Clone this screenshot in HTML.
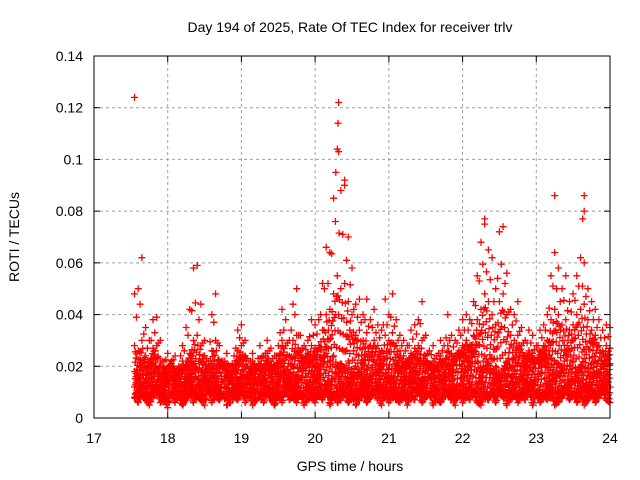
<!DOCTYPE html>
<html><head><meta charset="utf-8"><style>
body{margin:0;background:#fff}
svg{display:block;font-family:"Liberation Sans",sans-serif}
</style></head><body>
<svg id="chart" width="640" height="480" viewBox="0 0 640 480">
<rect x="0" y="0" width="640" height="480" fill="#fff"/>
<text x="350" y="32" text-anchor="middle" font-size="14">Day 194 of 2025, Rate Of TEC Index for receiver trlv</text>
<text x="19" y="237" text-anchor="middle" font-size="14" transform="rotate(-90 19 237)">ROTI / TECUs</text>
<text x="350" y="471" text-anchor="middle" font-size="14">GPS time / hours</text>
<g id="grid"></g><g id="ticks"></g><g id="pts"></g>
<rect x="94" y="56" width="516" height="362" fill="none" stroke="#000" stroke-width="1"/>
</svg>
<script>
const xTicks=[17,18,19,20,21,22,23,24];
const yTicks=[0,0.02,0.04,0.06,0.08,0.1,0.12,0.14];
const yTickLabels=["0","0.02","0.04","0.06","0.08","0.1","0.12","0.14"];
const tStart=17.55, tStep=0.05;
const rowLow=[8,6,9,7,5,8,10,6,7,4,9,6,8,5,7,9,6,8,7,5,10,6,8,7,9,5,6,8,7,10,6,9,5,7,8,6,9,7,5,8,6,10,7,8,6,9,5,7,8,6,9,7,10,5,8,6,7,9,6,8,5,7,9,6,8,10,7,5,9,6,8,7,6,9,5,8,7,10,6,8,9,5,7,6,8,9,7,5,10,6,8,7,9,6,5,8,7,9,6,10,8,5,7,9,6,8,7,10,5,9,6,8,7,9,5,6,8,10,7,9,6,8,5,7,9,6,8,10,7,6];
const rowLow2=[12,10,13,11,9,14,12,10,11,13,9,12,14,10,11,13,12,9,10,14,12,11,13,10,9,12,14,11,13,10,12,9,11,14,10,13,12,11,9,12,10,14,13,11,12,10,9,13,11,14,12,10,13,11,9,12,14,10,12,13,11,10,14,12,9,11,13,12,10,14,11,12,9,13,10,12,14,11,13,10,9,12,11,14,13,10,12,11,9,13,12,14,10,11,13,12,9,10,14,12,11,13,10,12,9,11,14,13,12,10,11,9,13,12,14,10,11,12,13,9,10,14,12,11,13,10,12,11,13,12];
const rowMid=[18,16,20,15,17,21,19,14,16,18,20,15,17,22,16,19,21,15,18,17,14,20,16,19,22,17,15,18,21,16,19,14,17,20,18,15,22,16,19,17,21,18,15,20,16,19,22,21,18,20,19,23,25,22,24,20,21,19,22,18,20,17,21,19,16,22,18,20,17,19,15,21,18,16,20,19,17,22,15,18,20,16,19,21,17,20,18,22,24,20,23,21,25,22,19,24,21,18,20,17,19,22,16,18,21,17,20,23,19,22,21,24,20,23,22,21,19,24,20,22,18,20,23,19,21,22,17,20,18,21];
const rowMid2=[28,26,30,24,22,27,28,22,20,19,21,18,20,17,22,25,30,32,28,24,19,26,30,22,19,21,18,20,26,28,24,19,22,18,23,20,25,22,20,24,30,28,24,30,32,26,23,25,28,27,28,34,40,42,48,55,50,52,45,40,32,34,30,33,28,30,28,26,32,30,33,28,26,24,22,25,27,28,30,24,21,22,20,24,22,28,25,24,26,28,30,28,32,38,42,48,45,40,36,45,48,40,32,30,32,28,24,26,25,22,26,28,30,38,42,40,36,38,34,36,40,42,44,38,34,32,28,26,28,27];
const rowHigh=[48,50,62,35,30,38,39,30,22,25,22,24,20,28,35,42,58,59,44,30,22,40,48,28,22,25,20,24,34,36,30,22,25,20,28,24,30,27,24,28,42,38,30,44,50,32,28,30,38,36,38,52,66,64,85,104,88,92,70,58,44,46,40,46,38,42,36,34,46,40,48,38,32,30,28,34,36,38,45,32,26,28,24,30,28,40,32,30,34,38,40,38,45,55,68,77,65,62,50,72,74,56,42,40,45,35,30,34,32,28,34,36,40,55,64,58,50,55,45,48,55,62,60,50,45,42,38,34,36,35];
const outT=[17.55,20.32,20.31,20.32,20.28,23.25,23.65,23.65,23.63,20.4,22.3,17.65];
const outV=[0.124,0.122,0.114,0.103,0.095,0.086,0.086,0.080,0.077,0.090,0.075,0.062];
const X=t=>94+(t-17)*(516/7);
const Y=v=>418-v*(362/0.14);
const NS="http://www.w3.org/2000/svg";
const grid=document.getElementById('grid'),ticks=document.getElementById('ticks'),pts=document.getElementById('pts');
function mk(tag,attrs,parent){const e=document.createElementNS(NS,tag);for(const k in attrs)e.setAttribute(k,attrs[k]);parent.appendChild(e);return e;}
xTicks.forEach(t=>{
  if(t>17&&t<24){const g=mk('line',{x1:X(t),x2:X(t),y1:56,y2:418,stroke:'#a0a0a0','stroke-dasharray':'3,3'},grid);
  
  }
  const l=mk('text',{x:X(t),y:443,'text-anchor':'middle','font-size':14},ticks);l.textContent=t;
  
  
  mk('line',{x1:X(t),x2:X(t),y1:418,y2:412,stroke:'#000'},ticks);
  mk('line',{x1:X(t),x2:X(t),y1:56,y2:62,stroke:'#000'},ticks);
});
yTicks.forEach((v,i)=>{
  if(v>0&&v<0.14){const g=mk('line',{x1:94,x2:610,y1:Y(v),y2:Y(v),stroke:'#a0a0a0','stroke-dasharray':'3,3'},grid);
  
  }
  const l=mk('text',{x:83,y:Y(v)+5,'text-anchor':'end','font-size':14},ticks);l.textContent=yTickLabels[i];
  
  
  mk('line',{x1:94,x2:100,y1:Y(v),y2:Y(v),stroke:'#000'},ticks);
  mk('line',{x1:610,x2:604,y1:Y(v),y2:Y(v),stroke:'#000'},ticks);
});
let d='';
function plus(t,v){const x=X(t),y=Y(v);d+=`M${(x-3.5).toFixed(1)} ${y.toFixed(1)}h7M${x.toFixed(1)} ${(y-3.5).toFixed(1)}v7`;}
const rows=[rowLow,rowLow2,rowMid,rowMid2,rowHigh];
rows.forEach(row=>row.forEach((v,i)=>{const t=tStart+i*tStep;if(t<=24.001)plus(t,v/1000);}));
const fr=[0,0.2,0.4,0.6,0.8];
const subs=[0.2,0.4,0.6,0.8];
for(let r=0;r<3;r++){
  const A=rows[r],B=rows[r+1];
  for(let i=0;i<A.length-1;i++){
    subs.forEach((s,si)=>{
      const t=tStart+(i+s)*tStep; if(t>24)return;
      const a=A[i]*(1-s)+A[i+1]*s, b=B[i]*(1-s)+B[i+1]*s;
      [0,2].forEach(k=>{const f=fr[(i+si+r+k)%5];plus(t,(a*(1-f)+b*f)/1000);});
    });
  }
}
for(let i=0;i<rowHigh.length-1;i++){const t=tStart+(i+0.5)*tStep;if(t<=24)plus(t,(rowMid2[i]+rowHigh[i+1])/2000);}
outT.forEach((t,i)=>plus(t,outV[i]));
const p=mk('path',{d:d,stroke:'#f00','stroke-width':1.3,fill:'none'},pts);


</script>
</body></html>
